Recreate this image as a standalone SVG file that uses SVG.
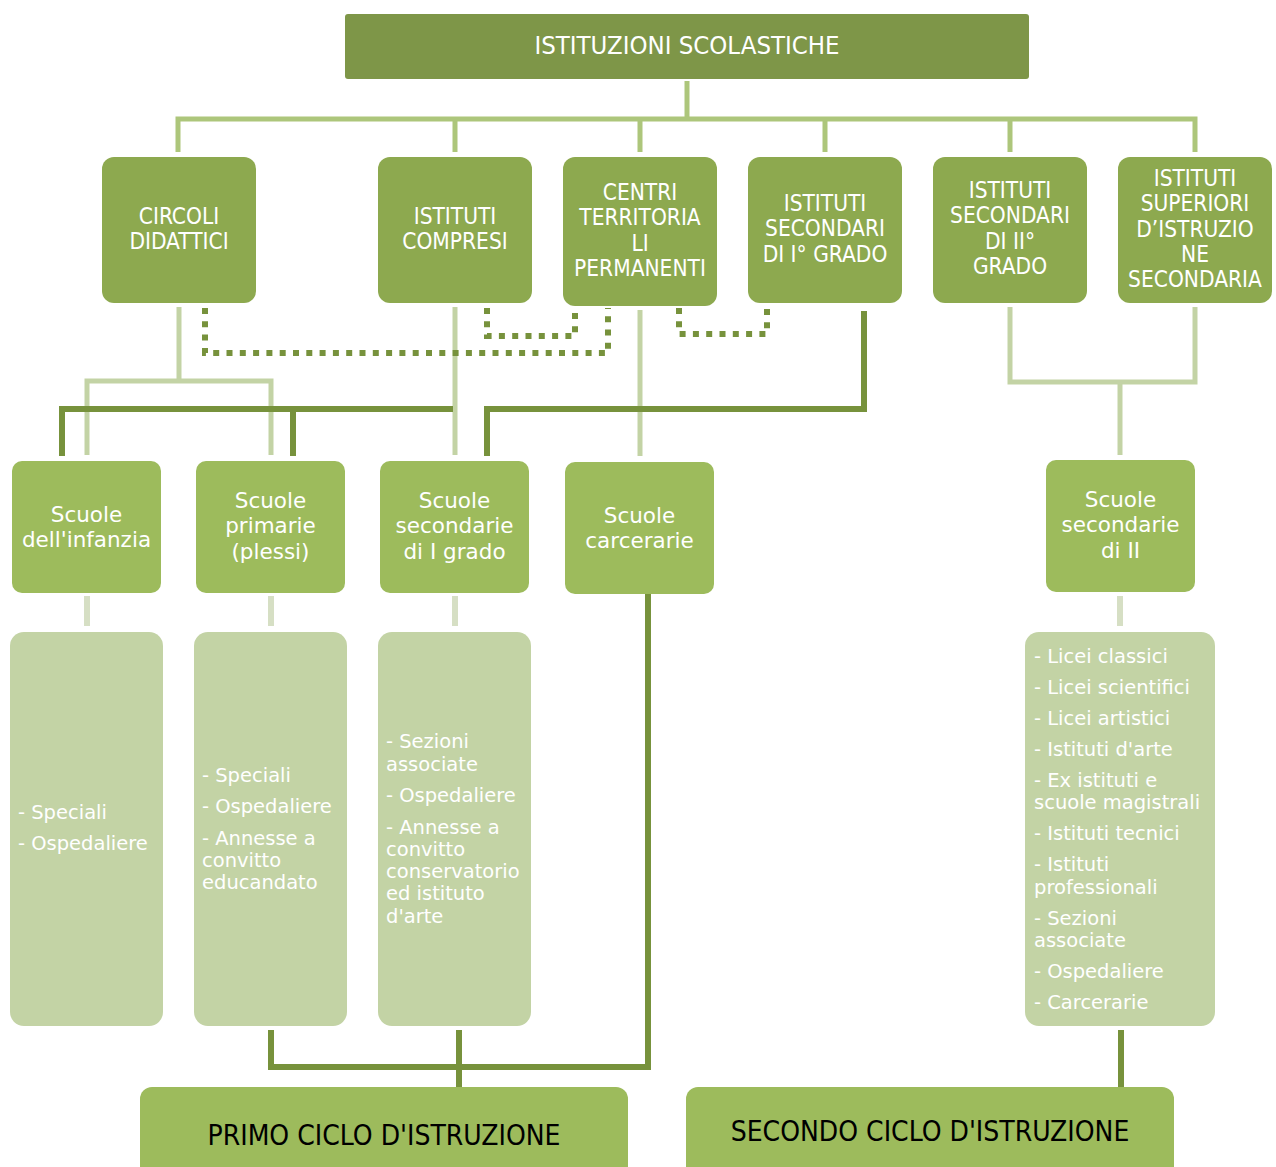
<svg xmlns="http://www.w3.org/2000/svg" width="1276" height="1167" viewBox="0 0 1276 1167">
<style>
.top{fill:#7e9648}
.l2{fill:#8da94f}
.l3{fill:#9dbb5c}
.l4{fill:#c3d3a5}
.cap{font-family:"DejaVu Sans Condensed","DejaVu Sans",sans-serif;fill:#fff;text-anchor:middle}
.lc{font-family:"DejaVu Sans",sans-serif;fill:#fff;text-anchor:middle;font-size:21.5px}
.li{font-family:"DejaVu Sans",sans-serif;fill:#fff;font-size:19.5px}
.bt{font-family:"DejaVu Sans Condensed","DejaVu Sans",sans-serif;fill:#000;text-anchor:middle;font-size:28px}
.bus{fill:none;stroke:#adc67b;stroke-width:5}
.lt{fill:none;stroke:#c3d3a5;stroke-width:5}
.vl{fill:none;stroke:#d6dfc4;stroke-width:6}
.dk{fill:none;stroke:#77923c;stroke-width:6}
.dt{fill:none;stroke:#77923c;stroke-width:6;stroke-dasharray:6 7.3}
</style>
<rect width="1276" height="1167" fill="#fff"/>
<g id="connectors">
<line class="bus" x1="687" y1="81" x2="687" y2="119"/>
<path class="bus" d="M178,152 V119 H1195 V152 M455,119 V152 M640,119 V152 M825,119 V152 M1010,119 V152"/>
<path class="lt" d="M179,307 V381 M87,455 V381 H271 V455"/>
<path class="lt" d="M455,307 V455"/>
<path class="lt" d="M640,310 V456"/>
<path class="lt" d="M1010,307 V382 H1195 V307 M1120,382 V455"/>
<path class="dk" d="M62,456 V409 H453 M293,409 V456"/>
<path class="dk" d="M864,311 V409 H487 V456"/>
<path class="dt" d="M205,308 V353 H608 V308"/>
<path class="dt" d="M487,308 V336 H575 V308"/>
<path class="dt" d="M679,308 V334 H767 V308"/>
<path class="vl" d="M87,596 V626 M271,596 V626 M455,596 V626 M1120,596 V626"/>
<path class="dk" d="M271,1030 V1067 H648 V594 M459,1030 V1087"/>
<path class="dk" d="M1121,1030 V1087"/>
</g>
<g id="n-istituzioni">
<rect class="top" x="345" y="14" width="684" height="65" rx="3"/>
<text class="cap" x="687" y="54" font-size="25.5">ISTITUZIONI SCOLASTICHE</text>
</g>
<g id="n-circoli">
<rect class="l2" x="102" y="157" width="154" height="146" rx="12"/>
<text class="cap" font-size="22.5" x="179" y="224">CIRCOLI<tspan x="179" dy="25.3">DIDATTICI</tspan></text>
</g>
<g id="n-compresi">
<rect class="l2" x="378" y="157" width="154" height="146" rx="12"/>
<text class="cap" font-size="22.5" x="455" y="224">ISTITUTI<tspan x="455" dy="25.3">COMPRESI</tspan></text>
</g>
<g id="n-centri">
<rect class="l2" x="563" y="157" width="154" height="149" rx="12"/>
<text class="cap" font-size="22.5" x="640" y="200">CENTRI<tspan x="640" dy="25.3">TERRITORIA</tspan><tspan x="640" dy="25.3">LI</tspan><tspan x="640" dy="25.3">PERMANENTI</tspan></text>
</g>
<g id="n-sec1">
<rect class="l2" x="748" y="157" width="154" height="146" rx="12"/>
<text class="cap" font-size="22.5" x="825" y="211">ISTITUTI<tspan x="825" dy="25.3">SECONDARI</tspan><tspan x="825" dy="25.3">DI I°  GRADO</tspan></text>
</g>
<g id="n-sec2">
<rect class="l2" x="933" y="157" width="154" height="146" rx="12"/>
<text class="cap" font-size="22.5" x="1010" y="198">ISTITUTI<tspan x="1010" dy="25.3">SECONDARI</tspan><tspan x="1010" dy="25.3">DI II°</tspan><tspan x="1010" dy="25.3">GRADO</tspan></text>
</g>
<g id="n-superiori">
<rect class="l2" x="1118" y="157" width="154" height="146" rx="12"/>
<text class="cap" font-size="22.5" x="1195" y="186">ISTITUTI<tspan x="1195" dy="25.3">SUPERIORI</tspan><tspan x="1195" dy="25.3">D’ISTRUZIO</tspan><tspan x="1195" dy="25.3">NE</tspan><tspan x="1195" dy="25.3">SECONDARIA</tspan></text>
</g>
<g id="n-infanzia">
<rect class="l3" x="12" y="461" width="149" height="132" rx="10"/>
<text class="lc" x="86.5" y="521.5">Scuole<tspan x="86.5" dy="25.3">dell'infanzia</tspan></text>
</g>
<g id="n-primarie">
<rect class="l3" x="196" y="461" width="149" height="132" rx="10"/>
<text class="lc" x="270.5" y="508">Scuole<tspan x="270.5" dy="25.3">primarie</tspan><tspan x="270.5" dy="25.3">(plessi)</tspan></text>
</g>
<g id="n-secondarie1">
<rect class="l3" x="380" y="461" width="149" height="132" rx="10"/>
<text class="lc" x="454.5" y="508">Scuole<tspan x="454.5" dy="25.3">secondarie</tspan><tspan x="454.5" dy="25.3">di I grado</tspan></text>
</g>
<g id="n-carcerarie">
<rect class="l3" x="565" y="462" width="149" height="132" rx="10"/>
<text class="lc" x="639.5" y="522.5">Scuole<tspan x="639.5" dy="25.3">carcerarie</tspan></text>
</g>
<g id="n-secondarie2">
<rect class="l3" x="1046" y="460" width="149" height="132" rx="10"/>
<text class="lc" x="1120.5" y="507">Scuole<tspan x="1120.5" dy="25.3">secondarie</tspan><tspan x="1120.5" dy="25.3">di II</tspan></text>
</g>
<g id="n-list-infanzia">
<rect class="l4" x="10" y="632" width="153" height="394" rx="14"/>
<text class="li" x="18" y="819">- Speciali<tspan x="18" dy="31">- Ospedaliere</tspan></text>
</g>
<g id="n-list-primarie">
<rect class="l4" x="194" y="632" width="153" height="394" rx="14"/>
<text class="li" x="202" y="782">- Speciali<tspan x="202" dy="31">- Ospedaliere</tspan><tspan x="202" dy="32">- Annesse a</tspan><tspan x="202" dy="22">convitto</tspan><tspan x="202" dy="22">educandato</tspan></text>
</g>
<g id="n-list-secondarie1">
<rect class="l4" x="378" y="632" width="153" height="394" rx="14"/>
<text class="li" x="386" y="748">- Sezioni<tspan x="386" dy="23">associate</tspan><tspan x="386" dy="31">- Ospedaliere</tspan><tspan x="386" dy="32">- Annesse a</tspan><tspan x="386" dy="22">convitto</tspan><tspan x="386" dy="22">conservatorio</tspan><tspan x="386" dy="22">ed istituto</tspan><tspan x="386" dy="23">d'arte</tspan></text>
</g>
<g id="n-list-secondarie2">
<rect class="l4" x="1025" y="632" width="190" height="394" rx="14"/>
<text class="li" x="1034" y="663">- Licei classici<tspan x="1034" dy="31">- Licei scientifici</tspan><tspan x="1034" dy="31">- Licei artistici</tspan><tspan x="1034" dy="31">- Istituti d'arte</tspan><tspan x="1034" dy="31">- Ex istituti e</tspan><tspan x="1034" dy="22">scuole magistrali</tspan><tspan x="1034" dy="31">- Istituti tecnici</tspan><tspan x="1034" dy="31">- Istituti</tspan><tspan x="1034" dy="23">professionali</tspan><tspan x="1034" dy="31">- Sezioni</tspan><tspan x="1034" dy="22">associate</tspan><tspan x="1034" dy="31">- Ospedaliere</tspan><tspan x="1034" dy="31">- Carcerarie</tspan></text>
</g>
<g id="n-primo">
<rect class="l3" x="140" y="1087" width="488" height="100" rx="12"/>
<text class="bt" x="384" y="1145">PRIMO CICLO D'ISTRUZIONE</text>
</g>
<g id="n-secondo">
<rect class="l3" x="686" y="1087" width="488" height="100" rx="12"/>
<text class="bt" x="930" y="1141">SECONDO CICLO D'ISTRUZIONE</text>
</g>
</svg>
